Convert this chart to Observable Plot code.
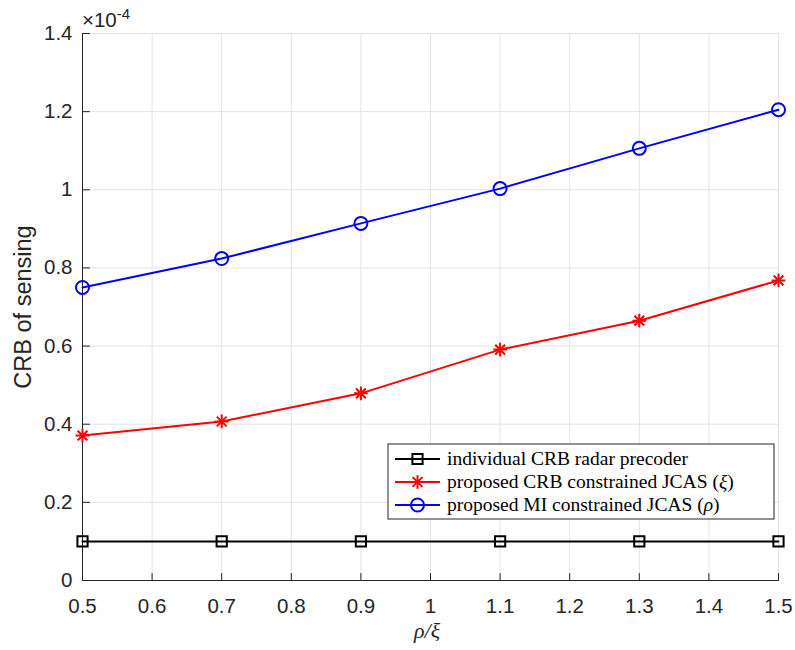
<!DOCTYPE html>
<html>
<head>
<meta charset="utf-8">
<script src="https://cdn.jsdelivr.net/npm/d3@7"></script>
<script src="https://cdn.jsdelivr.net/npm/@observablehq/plot@0.6"></script>
<style>
  body { margin: 0; background: #fff; }
  #chart { width: 795px; height: 650px; }
</style>
</head>
<body>
<div id="chart"></div>
<script>
// Power-split ratio on the x axis
const rhoXi = [0.5, 0.7, 0.9, 1.1, 1.3, 1.5];
// CRB of sensing, in units of 1e-4
const crbIndividual = [0.1, 0.1, 0.1, 0.1, 0.1, 0.1];
const crbProposedCRB = [0.371, 0.407, 0.479, 0.591, 0.665, 0.768];
const crbProposedMI = [0.750, 0.824, 0.914, 1.003, 1.106, 1.205];

// Legend entries: plain text plus an optional italic symbol in parentheses
const seriesNames = [
  "individual CRB radar precoder",
  "proposed CRB constrained JCAS",
  "proposed MI constrained JCAS"
];
const seriesSymbols = ["", "ξ", "ρ"];
const seriesColors = ["#000000", "#ff0000", "#0000ff"];

const xTicks = [0.5, 0.6, 0.7, 0.8, 0.9, 1.0, 1.1, 1.2, 1.3, 1.4, 1.5];
const yTicks = [0, 0.2, 0.4, 0.6, 0.8, 1.0, 1.2, 1.4];

const rows = (vals) => rhoXi.map((x, i) => ({x, y: vals[i]}));
const individual = rows(crbIndividual);
const proposedCRB = rows(crbProposedCRB);
const proposedMI = rows(crbProposedMI);

const fmt = (d) => String(+d.toFixed(1));
const axisColor = "#262626";
const gridColor = "#e3e3e3";
const sans = "'Liberation Sans', Arial, sans-serif";
const serif = "'Liberation Serif', 'Times New Roman', serif";

// Short inward tick drawn along the vector direction
const tickShape = {draw(context, l) { context.moveTo(0, 0); context.lineTo(0, -l); }};

const chart = Plot.plot({
  width: 795,
  height: 650,
  marginLeft: 82,
  marginRight: 17,
  marginTop: 33,
  marginBottom: 70,
  style: {fontFamily: sans, fontSize: "20px", color: axisColor, background: "#fff"},
  x: {domain: [0.5, 1.5]},
  y: {domain: [0, 1.4]},
  marks: [
    Plot.gridX(xTicks, {stroke: gridColor, strokeOpacity: 1, strokeWidth: 1}),
    Plot.gridY(yTicks, {stroke: gridColor, strokeOpacity: 1, strokeWidth: 1}),
    Plot.axisX(xTicks, {tickSize: 0, tickPadding: 18, tickFormat: fmt, label: null, fontSize: 20.5, fill: axisColor}),
    Plot.axisY(yTicks, {tickSize: 0, tickPadding: 10, tickFormat: fmt, label: null, fontSize: 20.5, fill: axisColor}),
    Plot.vector(xTicks, {x: (d) => d, y: 0, length: 7, rotate: 0, anchor: "start", shape: tickShape, stroke: axisColor, strokeWidth: 1}),
    Plot.vector(yTicks, {x: 0.5, y: (d) => d, length: 7, rotate: 90, anchor: "start", shape: tickShape, stroke: axisColor, strokeWidth: 1}),
    Plot.ruleX([0.5], {stroke: axisColor, strokeWidth: 1}),
    Plot.ruleY([0], {stroke: axisColor, strokeWidth: 1}),

    Plot.line(individual, {x: "x", y: "y", stroke: seriesColors[0], strokeWidth: 2}),
    Plot.dot(individual, {x: "x", y: "y", symbol: "square2", r: 6.5, stroke: seriesColors[0], strokeWidth: 2, fill: "none"}),

    Plot.line(proposedCRB, {x: "x", y: "y", stroke: seriesColors[1], strokeWidth: 2}),
    Plot.dot(proposedCRB, {x: "x", y: "y", symbol: "plus", r: 4.5, stroke: seriesColors[1], strokeWidth: 2}),
    Plot.dot(proposedCRB, {x: "x", y: "y", symbol: "times", r: 4.5, stroke: seriesColors[1], strokeWidth: 2}),

    Plot.line(proposedMI, {x: "x", y: "y", stroke: seriesColors[2], strokeWidth: 2}),
    Plot.dot(proposedMI, {x: "x", y: "y", symbol: "circle", r: 6.5, stroke: seriesColors[2], strokeWidth: 2, fill: "none"})
  ]
});

const svg = d3.select(chart);

// Exponent annotation above the y axis
const expo = svg.append("text")
  .attr("x", 82).attr("y", 27)
  .attr("text-anchor", "start")
  .attr("font-family", sans)
  .attr("font-size", 20.5).attr("fill", axisColor);
expo.append("tspan").text("×10");
expo.append("tspan").attr("dy", -8).attr("font-size", 15).text("-4");

// Axis titles
svg.append("text")
  .attr("transform", "translate(31,307) rotate(-90)")
  .attr("text-anchor", "middle")
  .attr("font-family", sans)
  .attr("font-size", 23.5).attr("fill", axisColor)
  .text("CRB of sensing");

svg.append("text")
  .attr("x", 427).attr("y", 638)
  .attr("text-anchor", "middle")
  .attr("font-family", serif)
  .attr("font-size", 22).attr("font-style", "italic").attr("fill", axisColor)
  .text("ρ/ξ");

// Legend box
const lg = svg.append("g").attr("transform", "translate(388,444)");
lg.append("rect").attr("width", 386).attr("height", 75)
  .attr("fill", "#fff").attr("stroke", axisColor).attr("stroke-width", 1);

const symbolFor = [
  [d3.symbolSquare2],
  [d3.symbolPlus, d3.symbolTimes],
  [d3.symbolCircle]
];
const rFor = [6.5, 4.5, 6.5];
seriesNames.forEach((name, i) => {
  const cy = 15 + i * 23;
  const row = lg.append("g").attr("transform", `translate(0,${cy})`);
  row.append("line").attr("x1", 7).attr("x2", 52).attr("y1", 0).attr("y2", 0)
    .attr("stroke", seriesColors[i]).attr("stroke-width", 2);
  symbolFor[i].forEach((sym) => {
    row.append("path")
      .attr("transform", "translate(29.5,0)")
      .attr("d", d3.symbol(sym, Math.PI * rFor[i] * rFor[i])())
      .attr("fill", "none").attr("stroke", seriesColors[i]).attr("stroke-width", 2);
  });
  const t = row.append("text").attr("x", 59).attr("y", 0).attr("dy", "0.32em")
    .attr("text-anchor", "start")
    .attr("font-family", serif)
    .attr("font-size", 19.5).attr("fill", "#000");
  t.append("tspan").text(name);
  if (seriesSymbols[i]) {
    t.append("tspan").text(" (");
    t.append("tspan").attr("font-style", "italic").text(seriesSymbols[i]);
    t.append("tspan").text(")");
  }
});

document.getElementById("chart").appendChild(chart);
</script>
</body>
</html>
